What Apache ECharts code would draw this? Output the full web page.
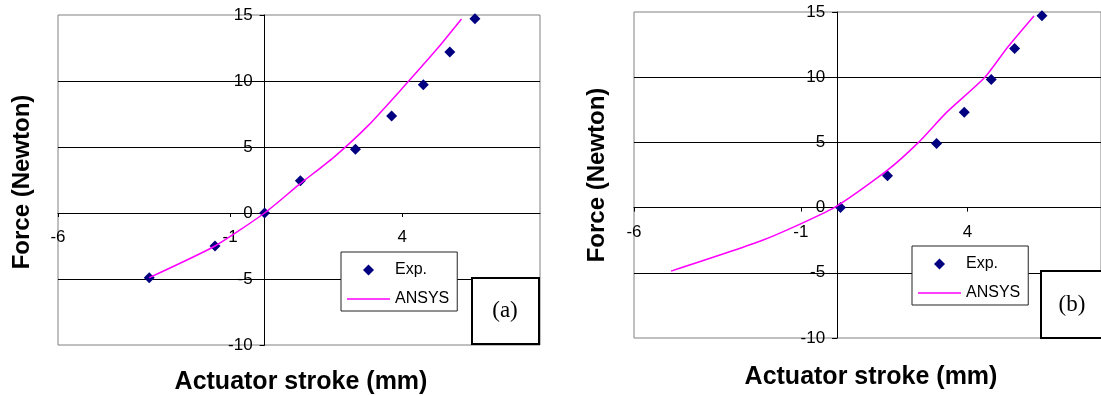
<!DOCTYPE html>
<html>
<head>
<meta charset="utf-8">
<script src="https://cdn.jsdelivr.net/npm/echarts@6/dist/echarts.min.js"></script>
<style>
  html, body { margin: 0; padding: 0; background: #fff; }
  #tt { width: 1101px; height: 396px; }
</style>
</head>
<body>
<div id="tt"></div>
<script>
var chartDom = document.getElementById('tt');
var myChart = echarts.init(chartDom);
var option;

// panel (a)
let expA_x = [-3.35, -1.44, 0, 1.04, 2.64, 3.69, 4.61, 5.38, 6.11];
let expA_y = [-4.9, -2.5, 0, 2.45, 4.83, 7.35, 9.72, 12.2, 14.72];
let ansysA_x = [-3.35, -1.44, 0, 1, 2, 3, 4, 5, 5.72];
let ansysA_y = [-4.9, -2.5, 0, 2.15, 4.2, 6.6, 9.45, 12.4, 14.7];

// panel (b)
let expB_x = [0.19, 1.6, 3.07, 3.9, 4.71, 5.41, 6.23];
let expB_y = [0, 2.45, 4.92, 7.32, 9.82, 12.2, 14.72];
let ansysB_x = [-4.89, -2.13, 0, 1.59, 2.53, 3.37, 4.52, 5.2, 5.99];
let ansysB_y = [-4.87, -2.49, 0, 2.85, 5.0, 7.3, 10.0, 12.3, 14.7];

let xName = 'Actuator stroke (mm)';
let yName = 'Force (Newton)';
let legendNames = ['Exp.', 'ANSYS'];
let panelLabels = ['(a)', '(b)'];

function pairs(xs, ys) {
  let out = [];
  for (let i = 0; i < xs.length; i++) out.push([xs[i], ys[i]]);
  return out;
}

let labelFont = { fontSize: 17, fontFamily: 'Liberation Sans, Arial', color: '#000' };

// axes are pulled inward with a negative offset so they sit on zero, like the excel plot
function makeX(gi, off) {
  return {
    type: 'value', gridIndex: gi, min: -6, max: 8, interval: 5, offset: off,
    axisLine: { onZero: false, lineStyle: { color: '#000', width: 1 } },
    axisTick: { show: true, length: 4, lineStyle: { color: '#000' } },
    axisLabel: Object.assign({ margin: 16, showMaxLabel: false }, labelFont),
    splitLine: { show: false }
  };
}
function makeY(gi, off) {
  return {
    type: 'value', gridIndex: gi, min: -10, max: 15, interval: 5, offset: off,
    axisLine: { onZero: false, lineStyle: { color: '#000', width: 1 } },
    axisTick: { show: true, length: 5, lineStyle: { color: '#000' } },
    axisLabel: Object.assign({ margin: 12 }, labelFont),
    splitLine: { show: true, showMinLine: false, showMaxLine: false, lineStyle: { color: '#000', width: 1 } }
  };
}
function makeLegend(left, top) {
  return {
    orient: 'vertical', left: left, top: top,
    data: [
      { name: legendNames[0], icon: 'path://M5,0L10,5L5,10L0,5Z' },
      { name: legendNames[1], icon: 'path://M0,0h43v1.5h-43z' }
    ],
    symbolKeepAspect: true,
    itemWidth: 43, itemHeight: 11, itemGap: 13,
    padding: [10, 8, 4, 6],
    backgroundColor: '#fff', borderColor: '#222', borderWidth: 1,
    textStyle: { fontSize: 16, fontFamily: 'Liberation Sans, Arial', color: '#000' },
    selectedMode: false
  };
}
let nameFontX = { fontSize: 25, fontWeight: 'bold', fontFamily: 'Liberation Sans, Arial', fill: '#000' };
let nameFontY = { fontSize: 24, fontWeight: 'bold', fontFamily: 'Liberation Sans, Arial', fill: '#000' };
function txt(x, y, text, rot, font) {
  return {
    type: 'text', x: x, y: y, rotation: rot || 0, z: 100,
    style: Object.assign({ text: text, align: 'center', verticalAlign: 'middle' }, font)
  };
}
function box(x, y, w, h) {
  return { type: 'rect', z: 90, shape: { x: x, y: y, width: w, height: h },
    style: { fill: '#fff', stroke: '#000', lineWidth: 2 } };
}
let panelFont = { fontSize: 23, fontFamily: 'Liberation Serif, Times New Roman', fill: '#000' };

option = {
  backgroundColor: '#fff',
  animation: false,
  grid: [
    { left: 58, top: 15, width: 482, height: 330, show: true, borderColor: '#808080', borderWidth: 1, backgroundColor: 'transparent' },
    { left: 634, top: 12, width: 474, height: 326, show: true, borderColor: '#808080', borderWidth: 1, backgroundColor: 'transparent' }
  ],
  xAxis: [makeX(0, -132), makeX(1, -130.4)],
  yAxis: [makeY(0, -206.6), makeY(1, -203.1)],
  legend: [makeLegend(341, 252), makeLegend(912, 246)],
  graphic: [
    txt(301, 382, xName, 0, nameFontX),
    txt(22, 182, yName, Math.PI / 2, nameFontY),
    txt(871, 377, xName, 0, nameFontX),
    txt(597, 175, yName, Math.PI / 2, nameFontY),
    box(472, 278, 67, 66),
    txt(505, 311, panelLabels[0], 0, panelFont),
    box(1041, 271, 67, 67),
    txt(1072, 305, panelLabels[1], 0, panelFont)
  ],
  series: [
    {
      name: 'ANSYS', type: 'line', xAxisIndex: 0, yAxisIndex: 0,
      smooth: 0.2, symbol: 'none', lineStyle: { color: '#ff00ff', width: 1.5 }, itemStyle: { color: '#ff00ff' },
      data: pairs(ansysA_x, ansysA_y)
    },
    {
      name: 'Exp.', type: 'scatter', xAxisIndex: 0, yAxisIndex: 0,
      symbol: 'diamond', symbolSize: 11, itemStyle: { color: '#000080', opacity: 1 },
      data: pairs(expA_x, expA_y)
    },
    {
      name: 'ANSYS', type: 'line', xAxisIndex: 1, yAxisIndex: 1,
      smooth: 0.2, symbol: 'none', lineStyle: { color: '#ff00ff', width: 1.5 }, itemStyle: { color: '#ff00ff' },
      data: pairs(ansysB_x, ansysB_y)
    },
    {
      name: 'Exp.', type: 'scatter', xAxisIndex: 1, yAxisIndex: 1,
      symbol: 'diamond', symbolSize: 11, itemStyle: { color: '#000080', opacity: 1 },
      data: pairs(expB_x, expB_y)
    }
  ]
};

option && myChart.setOption(option);
</script>
</body>
</html>
